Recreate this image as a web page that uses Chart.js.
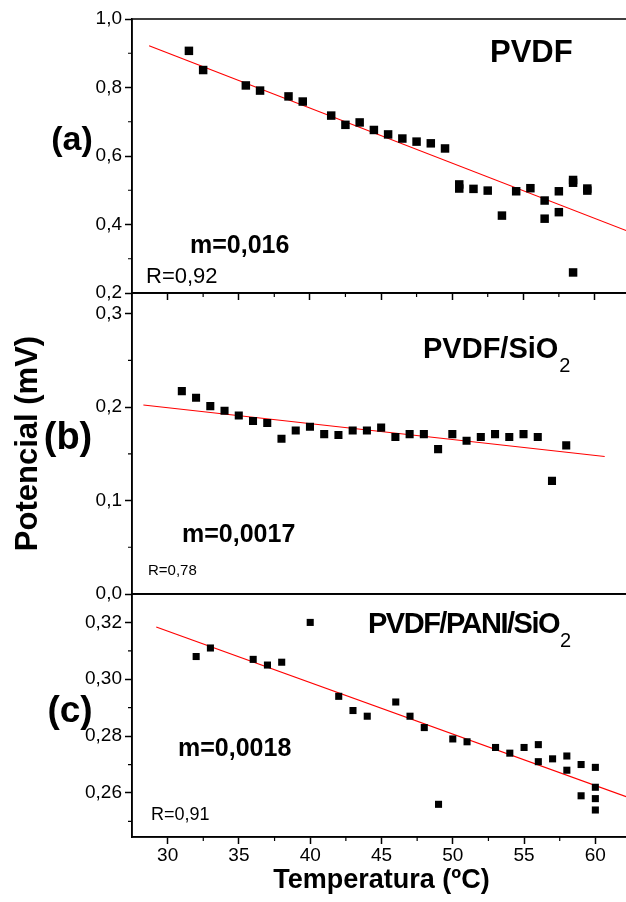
<!DOCTYPE html>
<html>
<head>
<meta charset="utf-8">
<script src="https://cdn.jsdelivr.net/npm/chart.js@4.4.1/dist/chart.umd.min.js"></script>
<style>
  html, body { margin: 0; padding: 0; background: #fff; }
  #wrap { position: relative; width: 626px; height: 902px; overflow: hidden; background: #fff; }
  #wrap canvas { position: absolute; left: 0; top: 0; }
</style>
</head>
<body>
<div id="wrap">
  <canvas id="chartA" width="636" height="902"></canvas>
  <canvas id="chartB" width="636" height="902"></canvas>
  <canvas id="chartC" width="636" height="902"></canvas>
</div>
<script>
// (a) PVDF
const tempA = [31.5, 32.5, 35.5, 36.5, 38.5, 39.5, 41.5, 42.5, 43.5, 44.5, 45.5, 46.5, 47.5, 48.5, 49.5,
               50.5, 50.5, 51.5, 52.5, 53.5, 54.5, 55.5, 56.5, 56.5, 57.5, 57.5, 58.5, 58.5, 58.5, 59.5, 59.5]
const potA  = [0.907, 0.851, 0.806, 0.791, 0.774, 0.759, 0.718, 0.691, 0.698, 0.676, 0.663, 0.651, 0.642, 0.637, 0.622,
               0.517, 0.505, 0.504, 0.499, 0.426, 0.497, 0.506, 0.470, 0.417, 0.497, 0.436, 0.530, 0.522, 0.260, 0.505, 0.499]
const fitTempA = [28.7, 62.5]
const fitPotA  = [0.922, 0.378]

// (b) PVDF/SiO2
const tempB = [31, 32, 33, 34, 35, 36, 37, 38, 39, 40, 41, 42, 43, 44, 45, 46, 47, 48, 49, 50, 51, 52, 53, 54, 55, 56, 57, 58]
const potB  = [0.217, 0.210, 0.201, 0.196, 0.191, 0.185, 0.183, 0.166, 0.175, 0.179, 0.171, 0.170, 0.175, 0.175,
               0.178, 0.168, 0.171, 0.171, 0.155, 0.171, 0.164, 0.168, 0.171, 0.168, 0.171, 0.168, 0.121, 0.159]
const fitTempB = [28.3, 60.7]
const fitPotB  = [0.2022, 0.1471]

// (c) PVDF/PANI/SiO2
const tempC = [32, 33, 36, 37, 38, 40, 42, 43, 44, 46, 47, 48, 49, 50, 51, 53, 54, 55, 56, 56, 57, 58, 58, 59, 59, 60, 60, 60, 60]
const potC  = [0.308, 0.311, 0.307, 0.305, 0.306, 0.320, 0.294, 0.289, 0.287, 0.292, 0.287, 0.283, 0.256, 0.279, 0.278,
               0.276, 0.274, 0.276, 0.277, 0.271, 0.272, 0.273, 0.268, 0.270, 0.259, 0.269, 0.262, 0.258, 0.254]
const fitTempC = [29.2, 62.5]
const fitPotC  = [0.3184, 0.2581]

// axes
const tempTicks = [30, 35, 40, 45, 50, 55, 60]
const tempMinor = [32.5, 37.5, 42.5, 47.5, 52.5, 57.5]
const potTicksA = [0.2, 0.4, 0.6, 0.8, 1.0]
const potMinorA = [0.3, 0.5, 0.7, 0.9]
const potTicksB = [0.0, 0.1, 0.2, 0.3]
const potMinorB = [0.05, 0.15, 0.25]
const potTicksC = [0.26, 0.28, 0.30, 0.32]
const potMinorC = [0.25, 0.27, 0.29, 0.31]

const FONT = 'Liberation Sans, Arial, sans-serif'

// frame box, short minor ticks and the text notes inside each panel
const paperPlugin = {
    id: 'paper',
    afterDraw(chart, args, opts) {
        const ctx = chart.ctx
        const a = chart.chartArea
        const xs = chart.scales.x
        const ys = chart.scales.y
        ctx.save()
        ctx.strokeStyle = '#000'
        ctx.lineWidth = 1.5
        ctx.strokeRect(a.left, a.top, a.right - a.left, a.bottom - a.top)

        ctx.lineWidth = 1.2
        ctx.beginPath()
        opts.minorY.forEach(v => {
            const y = ys.getPixelForValue(v)
            ctx.moveTo(a.left - 4, y)
            ctx.lineTo(a.left, y)
        })
        if (opts.minorX) {
            opts.minorX.forEach(v => {
                const x = xs.getPixelForValue(v)
                ctx.moveTo(x, a.bottom)
                ctx.lineTo(x, a.bottom + 4)
            })
        }
        ctx.stroke()

        ctx.fillStyle = '#000'
        opts.notes.forEach(n => {
            ctx.font = n.font
            ctx.textAlign = n.align || 'left'
            ctx.textBaseline = 'alphabetic'
            ctx.letterSpacing = (n.ls || 0) + 'px'
            ctx.fillText(n.text, n.x, n.y)
            if (n.sub) {
                const w = ctx.measureText(n.text).width
                ctx.font = '20px ' + FONT
                ctx.letterSpacing = '0px'
                ctx.fillText(n.sub, n.x + w + 1, n.y + 14)
            }
        })
        ctx.restore()
    }
}

function toPoints(xs, ys) {
    return xs.map((x, i) => ({ x: x, y: ys[i] }))
}

function makePanel(id, p) {

    const data = {
        datasets: [
            {
                data: toPoints(p.temp, p.pot),
                pointStyle: 'rect',
                pointRadius: p.radius,
                backgroundColor: '#000',
                borderColor: '#000',
                borderWidth: 0,
                showLine: false
            },
            {
                data: toPoints(p.fitTemp, p.fitPot),
                showLine: true,
                borderColor: '#ff0000',
                borderWidth: 1.2,
                pointRadius: 0,
                fill: false
            }
        ]
    }

    const options = {
        responsive: false,
        animation: false,
        devicePixelRatio: 1,
        events: [],
        layout: { padding: { top: p.top, bottom: p.bottom, left: 0, right: 0 } },
        plugins: {
            legend: { display: false },
            tooltip: { enabled: false },
            paper: { minorY: p.minorY, minorX: p.xTicks ? tempMinor : null, notes: p.notes }
        },
        scales: {
            x: {
                type: 'linear',
                min: 27.5,
                max: 62.5,
                afterBuildTicks: s => { s.ticks = tempTicks.map(v => ({ value: v })) },
                afterFit: s => { s.height = p.xHeight },
                border: { color: '#000', width: 1.5 },
                grid: { drawOnChartArea: false, drawTicks: p.xTicks, tickLength: 7, tickColor: '#000', tickWidth: 1.5 },
                ticks: {
                    display: p.xLabels,
                    autoSkip: false,
                    maxRotation: 0,
                    padding: 0,
                    color: '#000',
                    font: { family: FONT, size: 19 },
                    callback: v => String(v)
                },
                title: {
                    display: p.xLabels,
                    text: 'Temperatura (ºC)',
                    color: '#000',
                    font: { family: FONT, size: 27, weight: 'bold' },
                    padding: { top: 0, bottom: 5 }
                }
            },
            y: {
                type: 'linear',
                min: p.yMin,
                max: p.yMax,
                afterBuildTicks: s => { s.ticks = p.yTicks.map(v => ({ value: v })) },
                afterFit: s => { s.width = 132 },
                border: { color: '#000', width: 1.5 },
                grid: { drawOnChartArea: false, tickLength: 7, tickColor: '#000', tickWidth: 1.5 },
                ticks: {
                    padding: 3,
                    color: '#000',
                    font: { family: FONT, size: 19 },
                    callback: v => v.toFixed(p.decimals).replace('.', ',')
                },
                title: {
                    display: !!p.yTitle,
                    text: p.yTitle || '',
                    color: '#000',
                    font: { family: FONT, size: 31, weight: 'bold' },
                    padding: { top: 10, bottom: 0 }
                }
            }
        }
    }

    new Chart(id, { type: 'scatter', data, options, plugins: [paperPlugin] })
}

makePanel('chartA', {
    temp: tempA, pot: potA, fitTemp: fitTempA, fitPot: fitPotA, radius: 6,
    yMin: 0.2, yMax: 1.0, yTicks: potTicksA, minorY: potMinorA, decimals: 1,
    top: 19, bottom: 601, xHeight: 8, xTicks: true, xLabels: false,
    notes: [
        { text: 'PVDF', x: 490, y: 62, font: 'bold 31px ' + FONT },
        { text: 'm=0,016', x: 190, y: 253, font: 'bold 25px ' + FONT },
        { text: 'R=0,92', x: 146, y: 283, font: '22px ' + FONT },
        { text: '(a)', x: 72, y: 150, align: 'center', font: 'bold 34px ' + FONT }
    ]
})

makePanel('chartB', {
    temp: tempB, pot: potB, fitTemp: fitTempB, fitPot: fitPotB, radius: 5.7,
    yMin: 0, yMax: 0.322, yTicks: potTicksB, minorY: potMinorB, decimals: 1,
    top: 293, bottom: 308, xHeight: 0, xTicks: false, xLabels: false,
    yTitle: 'Potencial (mV)',
    notes: [
        { text: 'PVDF/SiO', sub: '2', x: 423, y: 358, font: 'bold 29px ' + FONT },
        { text: 'm=0,0017', x: 182, y: 542, font: 'bold 25px ' + FONT },
        { text: 'R=0,78', x: 148, y: 575, font: '15px ' + FONT },
        { text: '(b)', x: 68, y: 449, align: 'center', font: 'bold 38px ' + FONT }
    ]
})

makePanel('chartC', {
    temp: tempC, pot: potC, fitTemp: fitTempC, fitPot: fitPotC, radius: 5,
    yMin: 0.2445, yMax: 0.330, yTicks: potTicksC, minorY: potMinorC, decimals: 2,
    top: 594, bottom: 0, xHeight: 65, xTicks: true, xLabels: true,
    notes: [
        { text: 'PVDF/PANI/SiO', sub: '2', x: 368, y: 633, ls: -1.5, font: 'bold 29px ' + FONT },
        { text: 'm=0,0018', x: 178, y: 756, font: 'bold 25px ' + FONT },
        { text: 'R=0,91', x: 151, y: 820, font: '18px ' + FONT },
        { text: '(c)', x: 70, y: 722, align: 'center', font: 'bold 37px ' + FONT }
    ]
})
</script>
</body>
</html>
